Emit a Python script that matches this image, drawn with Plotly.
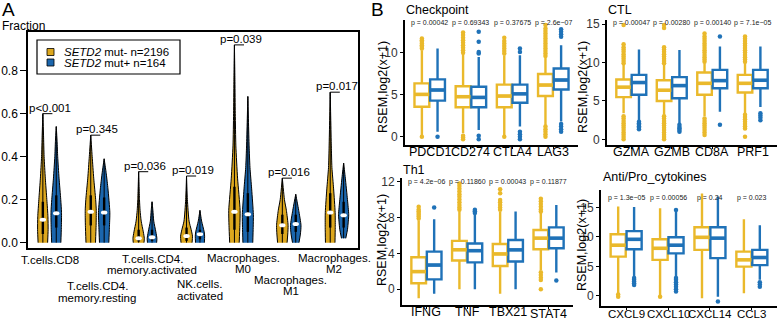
import plotly.graph_objects as go

W, H = 778, 318
FONT = "Liberation Sans, Arial, sans-serif"
YEL_A, BLU_A = "#DCA71E", "#1B66AD"
YEL_B, BLU_B = "#EAB92B", "#1F72B8"


def px_x(p):
    return p / W


def px_y(p):
    return 1 - p / H


# ---------------- Panel A data ----------------
cell_labels = [["T.cells.CD8"], ["T.cells.CD4.", "memory.resting"], ["T.cells.CD4.", "memory.activated"],
               ["NK.cells.", "activated"], ["Macrophages.", "M0"], ["Macrophages.", "M1"], ["Macrophages.", "M2"]]
pvals_A = ["p<0.001", "p=0.345", "p=0.036", "p=0.019", "p=0.039", "p=0.016", "p=0.017"]

# violin outlines: fraction levels and relative density (half-width)
vio_neg_y = [[0.0, 0.06, 0.12, 0.2, 0.3, 0.4, 0.5, 0.6],
             [0.0, 0.08, 0.15, 0.2, 0.3, 0.4, 0.5],
             [0.0, 0.02, 0.05, 0.1, 0.15, 0.2, 0.33],
             [0.0, 0.03, 0.06, 0.1, 0.2, 0.31],
             [0.0, 0.08, 0.15, 0.3, 0.45, 0.6, 0.75, 0.92],
             [0.0, 0.04, 0.08, 0.15, 0.2, 0.3],
             [0.0, 0.07, 0.14, 0.25, 0.35, 0.45, 0.7]]
vio_neg_d = [[5.6, 6.2, 6.0, 4.7, 2.9, 1.5, 0.8, 0.0],
             [5.6, 6.3, 6.5, 5.8, 3.5, 1.7, 0.0],
             [6.3, 6.7, 5.5, 3.0, 1.7, 1.0, 0.0],
             [6.5, 7.0, 5.5, 3.0, 1.0, 0.0],
             [5.6, 6.4, 6.7, 3.7, 1.7, 1.0, 0.6, 0.0],
             [5.6, 6.4, 6.8, 4.8, 2.5, 0.0],
             [5.6, 5.9, 5.8, 4.0, 2.0, 1.3, 0.0]]
vio_pos_y = [[0.0, 0.07, 0.14, 0.2, 0.3, 0.4, 0.47, 0.54],
             [0.0, 0.07, 0.14, 0.25, 0.32, 0.39],
             [0.0, 0.02, 0.05, 0.1, 0.15, 0.19],
             [0.0, 0.03, 0.05, 0.1, 0.15],
             [0.0, 0.07, 0.13, 0.25, 0.35, 0.45, 0.68],
             [0.0, 0.04, 0.08, 0.15, 0.225],
             [0.02, 0.06, 0.1, 0.13, 0.2, 0.3, 0.37]]
vio_pos_d = [[5.4, 6.0, 6.2, 5.3, 3.3, 1.7, 1.0, 0.0],
             [5.5, 6.2, 6.7, 4.5, 2.5, 0.0],
             [5.4, 5.7, 4.5, 2.0, 1.0, 0.0],
             [5.2, 5.5, 5.0, 2.0, 0.0],
             [5.8, 6.3, 6.5, 4.5, 2.5, 1.5, 0.0],
             [3.8, 5.5, 6.2, 3.5, 0.0],
             [2.5, 4.5, 5.5, 6.0, 4.5, 2.0, 0.0]]
med_neg_A = [0.106, 0.144, 0.02, 0.031, 0.144, 0.081, 0.14]
med_pos_A = [0.137, 0.14, 0.025, 0.039, 0.132, 0.087, 0.127]
q1_neg_A = [0.04, 0.08, 0.005, 0.008, 0.06, 0.04, 0.07]
q3_neg_A = [0.19, 0.22, 0.06, 0.07, 0.26, 0.13, 0.23]
q1_pos_A = [0.07, 0.08, 0.008, 0.015, 0.05, 0.05, 0.07]
q3_pos_A = [0.22, 0.21, 0.06, 0.06, 0.23, 0.13, 0.19]
legend_A = ["<i>SETD2</i> mut- n=2196", "<i>SETD2</i> mut+ n=164"]

# ---------------- Panel B data ----------------
# stats tuples: (lower whisker, q1, median, q3, upper whisker)
cp_genes = ["PDCD1", "CD274", "CTLA4", "LAG3"]
cp_pvals = ["p = 0.00042", "p = 0.69343", "p = 0.37675", "p = 2.6e\u221207"]
cp_neg = [(0.0, 3.57, 5.04, 6.35, 10.3), (0.4, 3.5, 4.76, 6.0, 9.9),
          (0.0, 3.5, 4.84, 6.2, 9.7), (1.4, 4.84, 6.15, 7.46, 9.4)]
cp_pos = [(0.6, 4.3, 5.56, 6.83, 10.5), (0.8, 3.5, 4.68, 5.95, 9.5),
          (1.2, 4.05, 5.1, 6.2, 9.7), (1.8, 5.63, 6.75, 8.13, 10.9)]
cp_neg_out = [[0.0, 10.5, 10.7, 10.9, 11.1, 11.3, 11.5, 11.7],
              [-0.3, -0.1, 0.1, 10.0, 10.3, 10.6, 10.9, 11.2, 11.5, 11.8, 12.1, 12.4],
              [0.0, 9.9, 10.2, 10.5, 10.8, 11.1, 11.4, 11.8],
              [0.0, 0.3, 0.6, 0.9, 1.2, 9.6, 9.9, 10.2, 10.5, 10.8, 11.1, 11.4, 11.7, 12.0, 12.3, 12.6, 12.9, 13.3]]
cp_pos_out = [[0.0], [-0.3, 0.1, 9.9, 10.1, 11.3, 12.5], [-0.3, 0.0, 0.3, 0.6, 10.1, 10.5],
              [0.6, 0.9, 1.2, 1.5, 11.9, 12.2, 12.5, 12.8]]

ctl_genes = ["GZMA", "GZMB", "CD8A", "PRF1"]
ctl_pvals = ["p = 0.00047", "p = 0.00280", "p = 0.00140", "p = 7.1e\u221205"]
ctl_neg = [(3.4, 5.5, 6.8, 7.8, 9.7), (3.2, 5.0, 6.4, 7.7, 9.9),
           (3.0, 5.8, 7.3, 8.7, 9.9), (3.4, 6.1, 7.3, 8.4, 10.1)]
ctl_pos = [(2.5, 5.8, 7.4, 8.4, 11.7), (2.1, 5.35, 7.0, 8.1, 11.65),
           (3.6, 6.65, 7.65, 9.05, 12.1), (4.2, 6.65, 7.7, 9.05, 12.1)]
ctl_neg_out = [[0.0, 0.3, 0.6, 0.9, 1.2, 1.5, 1.8, 2.1, 2.4, 2.7, 3.0, 9.9, 10.2, 10.5, 10.8, 11.1, 11.4, 11.7, 12.0, 12.4, 14.9],
               [0.0, 0.3, 0.6, 0.9, 1.2, 1.5, 1.8, 2.1, 2.4, 2.7, 3.0, 9.9, 10.2, 10.5, 10.8, 11.1, 11.4, 11.7, 12.0, 14.5, 14.9],
               [0.56, 0.9, 1.2, 1.5, 1.8, 2.1, 2.4, 2.7, 10.1, 10.4, 10.7, 11.0, 11.3, 11.6, 11.9, 12.2, 12.5, 12.8, 13.1, 13.4, 13.8],
               [0.35, 1.4, 1.7, 2.0, 2.3, 2.6, 2.9, 3.2, 10.1, 10.4, 10.7, 11.0, 11.3, 11.6, 11.9, 12.2, 12.5, 12.8, 13.1, 13.4]]
ctl_pos_out = [[1.3, 1.5, 1.7, 1.9, 2.1, 2.3], [1.0, 1.2, 1.4, 1.6, 1.9], [1.9, 13.4], [2.5, 2.8, 3.1, 3.4]]

th1_genes = ["IFNG", "TNF", "TBX21", "STAT4"]
th1_pvals = ["p = 4.2e\u221206", "p = 0.11860", "p = 0.00043", "p = 0.11877"]
th1_neg = [(-1.0, 0.67, 1.97, 3.57, 7.7), (0.0, 3.2, 4.4, 5.4, 8.7),
           (-0.5, 2.6, 3.94, 5.05, 8.65), (2.16, 4.46, 5.7, 6.6, 8.5)]
th1_pos = [(-0.5, 1.1, 2.7, 4.2, 7.8), (0.0, 3.0, 4.3, 5.1, 8.3),
           (0.0, 3.1, 4.39, 5.5, 8.66), (1.86, 4.57, 5.7, 6.9, 9.4)]
th1_neg_out = [[7.9, 8.1, 8.3, 8.5, 8.7, 8.9, 9.2],
               [8.85, 9.1, 9.4, 9.7, 10.0, 10.3, 10.6, 10.9, 11.2, 11.5, 11.8],
               [8.85, 9.1, 9.4, 9.7, 9.96, 10.7, 11.15],
               [0.0, 1.04, 1.3, 1.6, 1.9, 8.66, 8.9, 9.2, 9.5, 9.8, 10.1]]
th1_pos_out = [[9.1], [8.5, 8.7, 8.85], [], [0.97]]

ap_genes = ["CXCL9", "CXCL10", "CXCL14", "CCL3"]
ap_pvals = ["p = 1.3e\u221205", "p = 0.00056", "p = 0.24", "p = 0.023"]
ap_neg = [(0.0, 6.65, 8.6, 10.45, 15.2), (0.1, 6.1, 8.07, 9.6, 14.9),
          (-0.45, 7.8, 9.94, 11.65, 17.4), (0.4, 4.94, 6.1, 7.5, 13.0)]
ap_pos = [(3.2, 7.9, 9.6, 11.0, 15.1), (3.2, 7.2, 8.6, 9.94, 14.3),
          (-0.2, 6.4, 9.8, 11.65, 16.9), (2.7, 5.2, 6.5, 7.8, 12.0)]
ap_neg_out = [[-0.2, 0.2], [-0.2], [], []]
ap_pos_out = [[1.8, 2.1, 2.4, 2.7, 3.0], [0.7, 1.1, 1.5, 1.9, 2.3, 2.7, 3.0, 14.6], [-1.0], [1.5, 1.9, 2.3]]

fig = go.Figure()

# ---------------- Panel A drawing ----------------
A_OFF = 0.14
VSCALE = 0.85 / 47.9    # data-x units per density unit
YPX = 1 / 215.0         # data-y units per pixel
XPX = 1 / 47.9          # data-x units per pixel
for i in range(len(cell_labels)):
    for side, ys, ds, col, med, q1, q3 in (
            (-1, vio_neg_y[i], vio_neg_d[i], YEL_A, med_neg_A[i], q1_neg_A[i], q3_neg_A[i]),
            (1, vio_pos_y[i], vio_pos_d[i], BLU_A, med_pos_A[i], q1_pos_A[i], q3_pos_A[i])):
        c = i + side * A_OFF
        xs = [c + d * VSCALE for d in ds] + [c - d * VSCALE for d in ds[::-1]]
        yy = list(ys) + list(ys[::-1])
        fig.add_trace(go.Scatter(x=xs, y=yy, mode="lines", fill="toself", fillcolor=col,
                                 line=dict(color="black", width=1, shape="spline", smoothing=0.6),
                                 xaxis="x", yaxis="y", hoverinfo="skip", showlegend=False))
        fig.add_trace(go.Scatter(x=[c, c], y=[ys[0], ys[-1]], mode="lines",
                                 line=dict(color="black", width=1), xaxis="x", yaxis="y",
                                 hoverinfo="skip", showlegend=False))
        fig.add_trace(go.Scatter(x=[c, c], y=[q1, q3], mode="lines",
                                 line=dict(color="black", width=2.4), xaxis="x", yaxis="y",
                                 hoverinfo="skip", showlegend=False))
        fig.add_shape(type="circle", xref="x", yref="y", x0=c - 3.2 * XPX, x1=c + 3.2 * XPX,
                      y0=med - 2.0 * YPX, y1=med + 2.0 * YPX, fillcolor="white", line=dict(width=0))
    top = max(vio_neg_y[i][-1], vio_pos_y[i][-1])
    x0 = i - A_OFF
    fig.add_shape(type="line", xref="x", yref="y", x0=x0, x1=x0 + 0.2, y0=top, y1=top,
                  line=dict(color="black", width=1))
    fig.add_annotation(x=i, y=top, xref="x", yref="y", text=pvals_A[i], showarrow=False,
                       yanchor="bottom", yshift=-2, font=dict(size=11.5, color="black"))

# category labels (staggered)
label_dx = [0, 0, 0.14, 0.14, 0.04, 0.04, -0.06]
label_py = [[260], [286, 298], [259, 270], [284, 296], [258, 269], [280, 291], [258, 269]]
for i, lines in enumerate(cell_labels):
    for line, py in zip(lines, label_py[i]):
        fig.add_annotation(x=i + label_dx[i], y=px_y(py), xref="x", yref="paper", text=line,
                           showarrow=False, yanchor="middle", font=dict(size=11.5, color="black"))

# legend box
fig.add_shape(type="rect", xref="paper", yref="paper", x0=px_x(37), x1=px_x(180),
              y0=px_y(74), y1=px_y(40), line=dict(color="black", width=1.2))
for k, (txt, col) in enumerate(zip(legend_A, [YEL_A, BLU_A])):
    cy = 52 + 10.5 * k
    fig.add_shape(type="rect", xref="paper", yref="paper", x0=px_x(47), x1=px_x(54),
                  y0=px_y(cy + 3.5), y1=px_y(cy - 3.5), fillcolor=col, line=dict(color="black", width=0.8))
    fig.add_annotation(x=px_x(62), y=px_y(cy), xref="paper", yref="paper", text=txt, showarrow=False,
                       xanchor="left", yanchor="middle", font=dict(size=11.5, color="black"))

layout_axes = {}
layout_axes["xaxis"] = dict(domain=[px_x(28), px_x(358)], range=[-0.45, 6.44], anchor="y",
                            showticklabels=False, ticks="", showline=True, mirror=True, linecolor="black",
                            linewidth=1.5, showgrid=False, zeroline=False, automargin=False)
layout_axes["yaxis"] = dict(domain=[1 - 248 / H, 1 - 32 / H], range=[-0.025, 0.98], anchor="x",
                            tickvals=[0, 0.2, 0.4, 0.6, 0.8], tickformat=".1f", ticks="outside", ticklen=6,
                            tickcolor="black", showline=True, mirror=True, linecolor="black", linewidth=1.5,
                            tickfont=dict(size=12, color="black"), showgrid=False, zeroline=False,
                            automargin=False)

# ---------------- Panel B drawing ----------------
panels = [
    dict(title="Checkpoint", genes=cp_genes, neg=cp_neg, pos=cp_pos, nout=cp_neg_out, pout=cp_pos_out,
         pv=cp_pvals, xd=(405, 578), yd=(20, 145), yr=(-0.99, 13.9), tv=[0, 5, 10], py=13.5, tx=404, ty=10,
         lx=383, ly=87, gy=[152, 152, 152, 152], gf=12.5),
    dict(title="CTL", genes=ctl_genes, neg=ctl_neg, pos=ctl_pos, nout=ctl_neg_out, pout=ctl_pos_out,
         pv=ctl_pvals, xd=(607, 777), yd=(20, 145), yr=(-0.74, 15.55), tv=[0, 5, 10, 15], py=15.1, tx=606, ty=10,
         lx=583, ly=87, gy=[152, 152, 152, 152], gf=12.5),
    dict(title="Th1", genes=th1_genes, neg=th1_neg, pos=th1_pos, nout=th1_neg_out, pout=th1_pos_out,
         pv=th1_pvals, xd=(402, 573), yd=(178, 305), yr=(-1.75, 12.4), tv=[0, 4, 8, 12], py=11.95, tx=401, ty=170,
         lx=382, ly=240, gy=[312, 312, 312, 313.5], gf=12.5),
    dict(title="Anti/Pro_cytokines", genes=ap_genes, neg=ap_neg, pos=ap_pos, nout=ap_neg_out, pout=ap_pos_out,
         pv=ap_pvals, xd=(601, 777), yd=(190, 306), yr=(-1.76, 18.0), tv=[0, 5, 10, 15], py=16.6, tx=601, ty=177,
         lx=582, ly=245, gy=[313.5, 313.5, 313.5, 313.5], gf=11.5),
]
B_OFF = 0.19
BW = 0.36
for k, P in enumerate(panels):
    n = k + 2
    xa, ya = f"x{n}", f"y{n}"
    for side, stats, outs, col in ((-1, P["neg"], P["nout"], YEL_B), (1, P["pos"], P["pout"], BLU_B)):
        xs = [i + side * B_OFF for i in range(len(stats))]
        fig.add_trace(go.Box(x=xs, lowerfence=[s[0] for s in stats], q1=[s[1] for s in stats],
                             median=[s[2] for s in stats], q3=[s[3] for s in stats],
                             upperfence=[s[4] for s in stats], width=BW, fillcolor="white",
                             line=dict(color=col, width=2.4), whiskerwidth=0, boxpoints=False,
                             xaxis=xa, yaxis=ya, showlegend=False, hoverinfo="skip"))
        mx, my = [], []
        for c, s in zip(xs, stats):
            mx += [c - BW / 2, c + BW / 2, None]
            my += [s[2], s[2], None]
        fig.add_trace(go.Scatter(x=mx, y=my, mode="lines", line=dict(color=col, width=3.6),
                                 xaxis=xa, yaxis=ya, showlegend=False, hoverinfo="skip"))
        ox, oy = [], []
        for c, o in zip(xs, outs):
            ox += [c] * len(o)
            oy += o
        fig.add_trace(go.Scatter(x=ox, y=oy, mode="markers", marker=dict(color=col, size=4.5),
                                 xaxis=xa, yaxis=ya, showlegend=False, hoverinfo="skip"))
    for i, t in enumerate(P["pv"]):
        fig.add_annotation(x=i, y=P["py"], xref=xa, yref=ya, text=t, showarrow=False,
                           font=dict(size=7, color="#222"))
    for i, g in enumerate(P["genes"]):
        fig.add_annotation(x=i, y=px_y(P["gy"][i]), xref=xa, yref="paper", text=g, showarrow=False,
                           yanchor="middle", font=dict(size=P["gf"], color="black"))
    fig.add_annotation(x=px_x(P["tx"]), y=px_y(P["ty"]), xref="paper", yref="paper", text=P["title"],
                       showarrow=False, xanchor="left", yanchor="middle", font=dict(size=12.5, color="black"))
    fig.add_annotation(x=px_x(P["lx"]), y=px_y(P["ly"]), xref="paper", yref="paper", text="RSEM,log2(x+1)",
                       textangle=-90, showarrow=False, xanchor="center", yanchor="middle",
                       font=dict(size=12.5, color="black"))
    layout_axes[f"xaxis{n}"] = dict(domain=[px_x(P["xd"][0]), px_x(P["xd"][1])], range=[-0.6, 3.6], anchor=ya,
                                    tickvals=list(range(len(P["genes"]))), showticklabels=False,
                                    showline=True, linecolor="black", linewidth=1.8, ticks="outside",
                                    ticklen=2, tickcolor="black",
                                    showgrid=False, zeroline=False, automargin=False)
    layout_axes[f"yaxis{n}"] = dict(domain=[1 - P["yd"][1] / H, 1 - P["yd"][0] / H], range=list(P["yr"]),
                                    anchor=xa, tickvals=P["tv"], showline=True, linecolor="black",
                                    linewidth=1.8, ticks="outside", ticklen=3, tickcolor="black",
                                    tickfont=dict(size=12, color="#333"),
                                    showgrid=False, zeroline=False, automargin=False)

# panel letters and axis title
fig.add_annotation(x=0, y=1, xref="paper", yref="paper", text="A", showarrow=False, xanchor="left",
                   yanchor="top", yshift=3, font=dict(size=19, color="black"))
fig.add_annotation(x=px_x(369), y=1, xref="paper", yref="paper", text="B", showarrow=False, xanchor="left",
                   yanchor="top", yshift=3, font=dict(size=19, color="black"))
fig.add_annotation(x=0, y=px_y(26), xref="paper", yref="paper", text="Fraction", showarrow=False,
                   xanchor="left", yanchor="middle", font=dict(size=12, color="black"))

fig.update_layout(width=W, height=H, margin=dict(l=0, r=0, t=0, b=0), plot_bgcolor="white",
                  paper_bgcolor="white", font=dict(family=FONT, color="black"), showlegend=False,
                  **layout_axes)
fig.write_html("out.html", config={"displayModeBar": False},
               post_script="document.body.style.margin='0';document.body.style.overflow='hidden';")
